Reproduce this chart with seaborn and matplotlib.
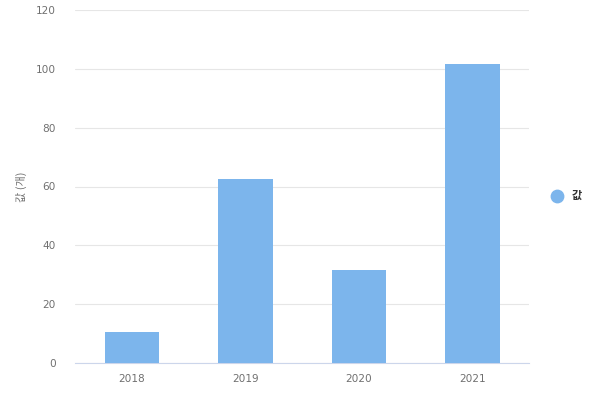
import matplotlib
matplotlib.use("Agg")
import matplotlib.pyplot as plt
import seaborn as sns
import pandas as pd

# data
years = ["2018", "2019", "2020", "2021"]
values = [10.5, 62.5, 31.5, 101.5]
series_name = "값"
y_label = "값 (개)"
y_ticks = [0, 20, 40, 60, 80, 100, 120]

df = pd.DataFrame({"year": years, "value": values})

sns.set_style("white")
plt.rcParams['font.family'] = ['DejaVu Sans', 'Noto Sans CJK KR']

fig = plt.figure(figsize=(6, 4), dpi=100)
ax = fig.add_axes([0.125, 0.0925, 0.757, 0.8825])

sns.barplot(data=df, x="year", y="value", color="#7cb5ec", width=0.48,
            saturation=1, linewidth=0, ax=ax, zorder=3)

ax.set_xlim(-0.5, 3.5)
ax.set_ylim(0, 120)
ax.set_yticks(y_ticks)
ax.grid(axis="y", color="#e6e6e6", linewidth=0.8, zorder=0)
for side in ["left", "right", "top"]:
    ax.spines[side].set_visible(False)
ax.spines["bottom"].set_color("#ccd6eb")
ax.spines["bottom"].set_linewidth(0.8)
ax.tick_params(axis="both", length=0, labelsize=7.6, labelcolor="#707070")
ax.tick_params(axis="x", pad=8)
ax.tick_params(axis="y", pad=14)
ax.set_xlabel("")
ax.set_ylabel(y_label, fontsize=8, color="#707070", labelpad=6,
              family=['Noto Sans CJK KR', 'DejaVu Sans'])

# legend at the right side
ax.scatter([], [], s=80, color="#7cb5ec", label=series_name)
leg = ax.legend(loc="center left", bbox_to_anchor=(1.015, 0.475), frameon=False,
                prop={"family": ['Noto Sans CJK KR'], "size": 8, "weight": "bold"},
                handletextpad=0.3, markerscale=1)
for t in leg.get_texts():
    t.set_color("#333333")

fig.savefig("out.png", dpi=100)
